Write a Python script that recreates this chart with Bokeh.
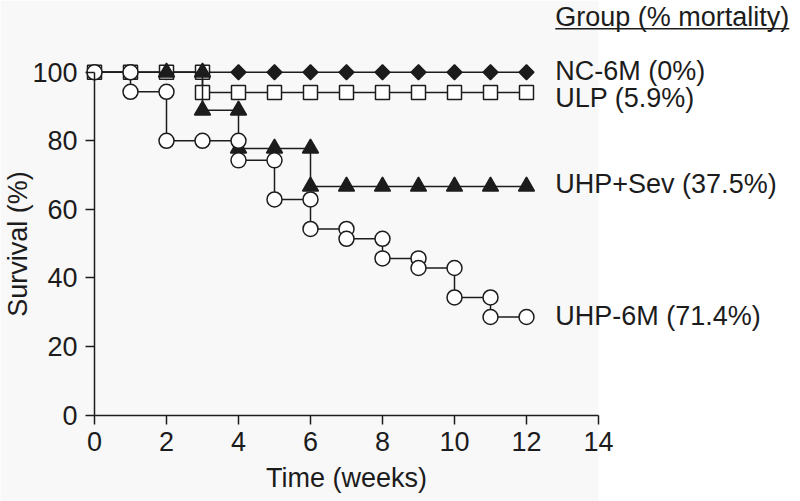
from bokeh.plotting import figure
from bokeh.models import Range1d, FixedTicker, Label, Arrow, BoxAnnotation
from bokeh.embed import file_html
from bokeh.resources import INLINE

# ---- data ----
weeks = [0, 1, 2, 3, 4, 5, 6, 7, 8, 9, 10, 11, 12]
nc6m_surv = [100.0, 100.0, 100.0, 100.0, 100.0, 100.0, 100.0, 100.0, 100.0, 100.0, 100.0, 100.0, 100.0]
ulp_surv = [100.0, 100.0, 100.0, 94.1, 94.1, 94.1, 94.1, 94.1, 94.1, 94.1, 94.1, 94.1, 94.1]
uhpsev_surv = [100.0, 100.0, 100.0, 88.9, 77.8, 77.8, 66.7, 66.7, 66.7, 66.7, 66.7, 66.7, 66.7]
uhp6m_surv = [100.0, 94.3, 80.0, 80.0, 74.3, 62.9, 54.3, 51.4, 45.7, 42.9, 34.3, 28.6, 28.6]
marker_start = {"nc6m": 0, "ulp": 0, "uhpsev": 2, "uhp6m": 0}

group_labels = ["NC-6M (0%)", "ULP (5.9%)", "UHP+Sev (37.5%)", "UHP-6M (71.4%)"]
legend_title = "Group (% mortality)"
x_ticks = [0, 2, 4, 6, 8, 10, 12, 14]
y_ticks = [0, 20, 40, 60, 80, 100]

FONT = "Liberation Sans"
INK = "#1c1c1c"
FS = "27px"


def marker_points(t, s, start):
    xs, ys = [], []
    for i in range(len(t)):
        if t[i] < start:
            continue
        if i > 0 and s[i] != s[i - 1]:
            xs.append(t[i])
            ys.append(s[i - 1])
        xs.append(t[i])
        ys.append(s[i])
    return xs, ys


# the frame covers the whole canvas; axes sit at x=0 / y=0 inside it
p = figure(width=800, height=501, output_backend="svg", toolbar_location=None,
           x_range=Range1d(-2.611, 19.611), y_range=Range1d(-25.24, 120.95),
           min_border=0)
p.background_fill_color = "white"
p.border_fill_color = "white"
p.outline_line_color = None
p.grid.visible = False

p.add_layout(BoxAnnotation(right=14, fill_color="#f8f8f8", fill_alpha=1.0,
                           line_color=None, level="underlay"))

for ax in (p.xaxis[0], p.yaxis[0]):
    ax.fixed_location = 0
    ax.axis_line_color = INK
    ax.axis_line_width = 1.5
    ax.major_tick_line_color = INK
    ax.major_tick_line_width = 1.5
    ax.major_tick_out = 9
    ax.major_tick_in = 0
    ax.minor_tick_line_color = None
    ax.major_label_text_font = FONT
    ax.major_label_text_font_size = FS
    ax.major_label_text_color = INK
    ax.axis_label_text_font = FONT
    ax.axis_label_text_font_size = FS
    ax.axis_label_text_font_style = "normal"
    ax.axis_label_text_color = INK

p.xaxis.ticker = FixedTicker(ticks=x_ticks)
p.yaxis.ticker = FixedTicker(ticks=y_ticks)
p.xaxis.bounds = (0, 14)
p.yaxis.bounds = (0, 100)
p.xaxis.axis_label = "Time (weeks)"
p.yaxis.axis_label = "Survival (%)"
p.xaxis.major_label_standoff = 8
p.xaxis.axis_label_standoff = 8
p.yaxis.major_label_standoff = 8
p.yaxis.axis_label_standoff = -4

series = [
    ("nc6m", nc6m_surv, dict(marker="square", size=10.5, angle=0.785398, fill_color=INK)),
    ("ulp", ulp_surv, dict(marker="square", size=14, fill_color="white")),
    ("uhpsev", uhpsev_surv, dict(marker="triangle", size=16, fill_color=INK)),
    ("uhp6m", uhp6m_surv, dict(marker="circle", size=15, fill_color="white")),
]

for key, surv, mk in series:
    p.step(weeks, surv, mode="after", line_color=INK, line_width=1.5)
    mx, my = marker_points(weeks, surv, marker_start[key])
    p.scatter(mx, my, line_color=INK, line_width=1.5, **mk)

label_y = [100.4, 92.6, 67.5, 29.0]
for txt, yy in zip(group_labels, label_y):
    p.add_layout(Label(x=12.8, y=yy, text=txt, text_baseline="middle",
                       text_font=FONT, text_font_size=FS, text_color=INK))

p.add_layout(Label(x=12.8, y=116.0, text=legend_title, text_baseline="alphabetic",
                   text_font=FONT, text_font_size=FS, text_color=INK))
p.add_layout(Arrow(end=None, x_start=12.8, y_start=112.7, x_end=19.3, y_end=112.7,
                   line_color=INK, line_width=1.5))

open("out.html", "w").write(file_html(p, INLINE))
